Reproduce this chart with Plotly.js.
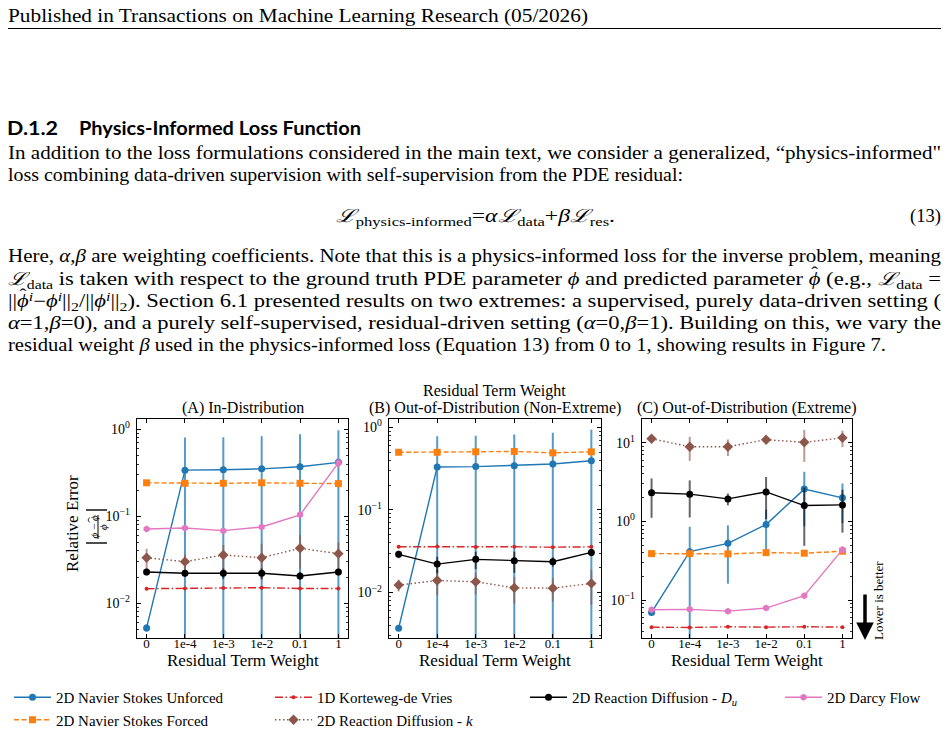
<!DOCTYPE html>
<html>
<head>
<meta charset="utf-8">
<script src="https://cdn.plot.ly/plotly-3.0.1.min.js"></script>
<style>
  html, body { margin: 0; padding: 0; background: #fff; }
  #page { position: relative; width: 949px; height: 734px; overflow: hidden; color: #000; }
  .ln { position: absolute; white-space: nowrap; font-family: "Liberation Serif", serif; font-size: 18px;
        line-height: 22px; transform-origin: 0 50%; }
  .ln sub { font-size: 0.7em; vertical-align: -0.3em; line-height: 0; }
  .ln sup { font-size: 0.7em; vertical-align: 0.45em; line-height: 0; }
  .hat { position: relative; display: inline-block; }
  .hat::after { content: "ˆ"; position: absolute; left: 0.12em; top: -0.38em; font-style: normal; font-size: 0.9em; }
  .hd { font-family: "Lato", "Noto Sans", sans-serif; font-weight: 700; }
  #rule { position: absolute; left: 8px; top: 28px; width: 933px; height: 1px; background: #000; }
  #chart { position: absolute; left: 0; top: 0; width: 949px; height: 734px; }
</style>
</head>
<body>
<div id="page">
  <div class="ln" data-y="16" data-x="8" data-w="580">Published in Transactions on Machine Learning Research (05/2026)</div>
  <div id="rule"></div>
  <div class="ln hd" data-y="128" data-x="7" data-w="51">D.1.2</div>
  <div class="ln hd" data-y="128" data-x="79" data-w="282">Physics-Informed Loss Function</div>
  <div class="ln" data-y="153" data-x="8" data-w="933">In addition to the loss formulations considered in the main text, we consider a generalized, “physics-informed"</div>
  <div class="ln" data-y="175" data-x="8" data-w="675">loss combining data-driven supervision with self-supervision from the PDE residual:</div>
  <div class="ln" data-y="216" data-x="336" data-w="279"><i>ℒ</i><sub>physics-informed</sub>=<i>α</i><i>ℒ</i><sub>data</sub>+<i>β</i><i>ℒ</i><sub>res</sub>.</div>
  <div class="ln" data-y="216" data-x="910" data-w="31">(13)</div>
  <div class="ln" data-y="256" data-x="8" data-w="933">Here, <i>α</i>,<i>β</i> are weighting coefficients. Note that this is a physics-informed loss for the inverse problem, meaning</div>
  <div class="ln" data-y="279" data-x="8" data-w="933"><i>ℒ</i><sub>data</sub> is taken with respect to the ground truth PDE parameter <i>ϕ</i> and predicted parameter <i class="hat">ϕ</i> (e.g., <i>ℒ</i><sub>data</sub> =</div>
  <div class="ln" data-y="301" data-x="8" data-w="933">||<i class="hat">ϕ</i><sup><i>i</i></sup>−<i>ϕ</i><sup><i>i</i></sup>||<sub>2</sub>/||<i>ϕ</i><sup><i>i</i></sup>||<sub>2</sub>). Section 6.1 presented results on two extremes: a supervised, purely data-driven setting (</div>
  <div class="ln" data-y="323" data-x="8" data-w="933"><i>α</i>=1,<i>β</i>=0), and a purely self-supervised, residual-driven setting (<i>α</i>=0,<i>β</i>=1). Building on this, we vary the</div>
  <div class="ln" data-y="345" data-x="8" data-w="878">residual weight <i>β</i> used in the physics-informed loss (Equation 13) from 0 to 1, showing results in Figure 7.</div>
  <div id="chart"></div>
</div>
<script>
// ---- residual term weights (x categories) ----
const weights = ['0', '1e-4', '1e-3', '1e-2', '0.1', '1'];

// ---- (A) In-Distribution: mean relative error and std ----
const nsuA = [0.0052, 0.340, 0.343, 0.352, 0.372, 0.418];
const nsuAErr = [0.0005, 0.47, 0.47, 0.48, 0.51, 0.56];
const nsfA = [0.243, 0.240, 0.240, 0.243, 0.240, 0.238];
const nsfAErr = [0.008, 0.005, 0.005, 0.005, 0.005, 0.005];
const kdvA = [0.0147, 0.0148, 0.0150, 0.0151, 0.0148, 0.0148];
const kdvAErr = [0.0003, 0.0003, 0.0003, 0.0003, 0.0003, 0.0003];
const rdkA = [0.0334, 0.0301, 0.0359, 0.0334, 0.0429, 0.0372];
const rdkAErr = [0.009, 0.006, 0.011, 0.015, 0.018, 0.013];
const rdduA = [0.0229, 0.0221, 0.0221, 0.0221, 0.0206, 0.0229];
const rdduAErr = [0.002, 0.002, 0.003, 0.003, 0.002, 0.002];
const darcyA = [0.0715, 0.0734, 0.0684, 0.0753, 0.104, 0.413];
const darcyAErr = [0.002, 0.002, 0.002, 0.002, 0.003, 0.05];

// ---- (B) Out-of-Distribution (Non-Extreme) ----
const nsuB = [0.0037, 0.330, 0.334, 0.343, 0.359, 0.394];
const nsuBErr = [0.0002, 0.45, 0.456, 0.477, 0.50, 0.536];
const nsfB = [0.498, 0.498, 0.505, 0.510, 0.490, 0.505];
const nsfBErr = [0.01, 0.01, 0.02, 0.02, 0.01, 0.01];
const kdvB = [0.0358, 0.0360, 0.0356, 0.0358, 0.0354, 0.0357];
const kdvBErr = [0.0005, 0.0005, 0.0005, 0.0005, 0.0005, 0.0005];
const rdkB = [0.0123, 0.0140, 0.0135, 0.0114, 0.0113, 0.0129];
const rdkBErr = [0.002, 0.0047, 0.004, 0.004, 0.0035, 0.0058];
const rdduB = [0.0290, 0.0221, 0.0252, 0.0243, 0.0236, 0.0306];
const rdduBErr = [0.003, 0.005, 0.006, 0.007, 0.003, 0.003];

// ---- (C) Out-of-Distribution (Extreme) ----
const nsuC = [0.070, 0.413, 0.527, 0.912, 2.57, 1.99];
const nsuCErr = [0.003, 0.44, 0.365, 0.5, 1.7, 1.04];
const nsfC = [0.390, 0.390, 0.387, 0.402, 0.395, 0.418];
const nsfCErr = [0.01, 0.01, 0.01, 0.01, 0.01, 0.01];
const kdvC = [0.0455, 0.0450, 0.0460, 0.0455, 0.0460, 0.0455];
const kdvCErr = [0.001, 0.001, 0.001, 0.001, 0.001, 0.001];
const rdkC = [11.2, 8.87, 8.87, 10.9, 10.1, 11.5];
const rdkCErr = [0.8, 3.0, 2.1, 0.8, 4.4, 2.7];
const rdduC = [2.31, 2.22, 1.93, 2.37, 1.59, 1.62];
const rdduCErr = [1.2, 1.1, 0.33, 1.3, 1.1, 0.9];
const darcyC = [0.0755, 0.0765, 0.0726, 0.0794, 0.114, 0.438];
const darcyCErr = [0.002, 0.002, 0.002, 0.002, 0.004, 0.05];

// ---- y tick labels ----
const yTicksAB = [0.01, 0.1, 1];
const yTextAB = ['10<sup>−2</sup>', '10<sup>−1</sup>', '10<sup>0</sup>'];
const yTicksC = [0.1, 1, 10];
const yTextC = ['10<sup>−1</sup>', '10<sup>0</sup>', '10<sup>1</sup>'];

// ---- fit each text line to its column width ----
document.querySelectorAll('.ln').forEach(function (el) {
  el.style.left = el.dataset.x + 'px';
  el.style.top = (+el.dataset.y - 11) + 'px';
  const natural = el.getBoundingClientRect().width;
  el.style.transform = 'scaleX(' + (+el.dataset.w / natural) + ')';
});

const W = 949, H = 734;
const px = function (x) { return x / W; };
const py = function (y) { return 1 - y / H; };
const SERIF = '"Liberation Serif", serif';

// legend columns: each column is its own legend box
const styles = {
  nsu:   { name: '2D Navier Stokes Unforced', color: '#1f77b4', err: 'rgba(31,119,180,0.75)', symbol: 'circle', size: 7, dash: 'solid', legend: 'legend' },
  nsf:   { name: '2D Navier Stokes Forced', color: '#ff7f0e', err: 'rgba(255,127,14,0.6)', symbol: 'square', size: 7, dash: '5px,2.5px', legend: 'legend' },
  kdv:   { name: '1D Korteweg-de Vries', color: '#d62728', err: 'rgba(214,39,40,0.6)', symbol: 'circle', size: 4, dash: '8px,2.5px,1.5px,2.5px', legend: 'legend2' },
  rdk:   { name: '2D Reaction Diffusion - <i>k</i>', color: '#8c564b', err: 'rgba(140,86,75,0.6)', symbol: 'diamond', size: 8, dash: '1.5px,2.5px', legend: 'legend2' },
  rddu:  { name: '2D Reaction Diffusion - <i>D<sub>u</sub></i>', color: '#000000', err: 'rgba(0,0,0,0.6)', symbol: 'circle', size: 7, dash: 'solid', legend: 'legend3' },
  darcy: { name: '2D Darcy Flow', color: '#e377c2', err: 'rgba(227,119,194,0.6)', symbol: 'hexagon', size: 7, dash: 'solid', legend: 'legend4' }
};

const panels = [
  { xa: 'x', ya: 'y', x0: 137, x1: 348, yr: [-2.40, 0.12], tv: yTicksAB, tt: yTextAB, title: '(A) In-Distribution',
    series: [['nsu', nsuA, nsuAErr], ['nsf', nsfA, nsfAErr], ['kdv', kdvA, kdvAErr], ['rdk', rdkA, rdkAErr], ['rddu', rdduA, rdduAErr], ['darcy', darcyA, darcyAErr]] },
  { xa: 'x2', ya: 'y2', x0: 389, x1: 601, yr: [-2.55, 0.10], tv: yTicksAB, tt: yTextAB, title: '(B) Out-of-Distribution (Non-Extreme)',
    series: [['nsu', nsuB, nsuBErr], ['nsf', nsfB, nsfBErr], ['kdv', kdvB, kdvBErr], ['rdk', rdkB, rdkBErr], ['rddu', rdduB, rdduBErr]] },
  { xa: 'x3', ya: 'y3', x0: 642, x1: 852, yr: [-1.48, 1.30], tv: yTicksC, tt: yTextC, title: '(C) Out-of-Distribution (Extreme)',
    series: [['nsu', nsuC, nsuCErr], ['nsf', nsfC, nsfCErr], ['kdv', kdvC, kdvCErr], ['rdk', rdkC, rdkCErr], ['rddu', rdduC, rdduCErr], ['darcy', darcyC, darcyCErr]] }
];

// minor tick positions on the log axes (2..9 within each decade)
const minorVals = [];
for (let d = -3; d <= 1; d++) for (let k = 2; k <= 9; k++) minorVals.push(k * Math.pow(10, d));

function legendBox(xMarker) {
  return {
    orientation: 'v', x: px(xMarker - 20), y: py(681), xanchor: 'left', yanchor: 'top',
    traceorder: 'normal', tracegroupgap: 0, itemwidth: 37, borderwidth: 0,
    font: { family: SERIF, size: 15, color: '#000' }, bgcolor: 'rgba(0,0,0,0)'
  };
}

const traces = [];
const layout = {
  width: W, height: H,
  margin: { l: 0, r: 0, t: 0, b: 0, autoexpand: false },
  paper_bgcolor: 'rgba(0,0,0,0)', plot_bgcolor: 'rgba(0,0,0,0)',
  font: { family: SERIF, color: '#000' },
  showlegend: true,
  legend: legendBox(29), legend2: legendBox(290), legend3: legendBox(545), legend4: legendBox(800),
  annotations: [], shapes: []
};

panels.forEach(function (p, i) {
  const sfx = i === 0 ? '' : String(i + 1);
  layout['xaxis' + sfx] = {
    domain: [px(p.x0), px(p.x1)], anchor: p.ya, type: 'category', categoryorder: 'array', categoryarray: weights,
    range: [-0.25, 5.25], showline: true, linecolor: '#000', linewidth: 1.2, mirror: 'allticks',
    ticks: 'inside', ticklen: 4, tickwidth: 1, tickcolor: '#000', showgrid: false, zeroline: false,
    ticklabelstandoff: -7,
    tickfont: { family: SERIF, size: 13, color: '#000' }, fixedrange: true
  };
  layout['yaxis' + sfx] = {
    domain: [py(638), py(419)], anchor: p.xa, type: 'log', range: p.yr,
    tickmode: 'array', tickvals: p.tv, ticktext: p.tt,
    showline: true, linecolor: '#000', linewidth: 1.2, mirror: 'allticks',
    ticks: 'inside', ticklen: 4, tickwidth: 1, tickcolor: '#000', showgrid: false, zeroline: false,
    ticklabelstandoff: 3,
    minor: { tickmode: 'array', tickvals: minorVals, ticks: 'inside', ticklen: 2, tickcolor: '#000', tickwidth: 0.8, showgrid: false },
    tickfont: { family: SERIF, size: 14, color: '#000' }, fixedrange: true
  };
  p.series.forEach(function (s) {
    const st = styles[s[0]];
    traces.push({
      type: 'scatter', mode: 'lines+markers', x: weights, y: s[1],
      xaxis: p.xa, yaxis: p.ya, name: st.name, legendgroup: s[0], legend: st.legend,
      showlegend: i === 0,
      line: { color: st.color, width: 1.4, dash: st.dash },
      marker: { color: st.color, symbol: st.symbol, size: st.size },
      error_y: { type: 'data', array: s[2], visible: true, color: st.err, thickness: 2, width: 0 }
    });
  });
  const cx = px((p.x0 + p.x1) / 2);
  layout.annotations.push({ xref: 'paper', yref: 'paper', x: cx, y: py(408), text: p.title, showarrow: false,
    xanchor: 'center', yanchor: 'middle', font: { family: SERIF, size: 16 } });
  layout.annotations.push({ xref: 'paper', yref: 'paper', x: cx, y: py(660), text: 'Residual Term Weight', showarrow: false,
    xanchor: 'center', yanchor: 'middle', font: { family: SERIF, size: 17 } });
});

// figure-level labels
layout.annotations.push(
  { xref: 'paper', yref: 'paper', x: px(495), y: py(391), text: 'Residual Term Weight', showarrow: false,
    xanchor: 'center', yanchor: 'middle', font: { family: SERIF, size: 16 } },
  { xref: 'paper', yref: 'paper', x: px(72), y: py(524), text: 'Relative Error', textangle: -90, showarrow: false,
    xanchor: 'center', yanchor: 'middle', font: { family: SERIF, size: 17 } },
  { xref: 'paper', yref: 'paper', x: px(93.5), y: py(527), text: '<i>ϕ</i> − <i>ϕ</i>', textangle: -90, showarrow: false,
    xanchor: 'center', yanchor: 'middle', font: { family: SERIF, size: 11 } },
  { xref: 'paper', yref: 'paper', x: px(103), y: py(527), text: '<i>ϕ</i>', textangle: -90, showarrow: false,
    xanchor: 'center', yanchor: 'middle', font: { family: SERIF, size: 11 } },
  { xref: 'paper', yref: 'paper', x: px(878), y: py(601), text: 'Lower is better', textangle: -90, showarrow: false,
    xanchor: 'center', yanchor: 'middle', font: { family: SERIF, size: 13 } },
  { xref: 'paper', yref: 'paper', x: px(865), y: py(640), text: '', showarrow: true, ax: 0, ay: -47,
    arrowhead: 2, arrowsize: 1, arrowwidth: 3.5, arrowcolor: '#000', standoff: 0 }
);

// fraction bar, hat over the predicted phi, and absolute-value bars of the error formula
layout.shapes.push(
  { type: 'line', xref: 'paper', yref: 'paper', x0: px(98), x1: px(98), y0: py(515), y1: py(539), line: { color: '#000', width: 1 } },
  { type: 'path', xref: 'paper', yref: 'paper',
    path: 'M ' + px(89.5) + ' ' + py(517.5) + ' L ' + px(88) + ' ' + py(520) + ' L ' + px(89.5) + ' ' + py(522.5),
    line: { color: '#000', width: 0.8 } },
  { type: 'line', xref: 'paper', yref: 'paper', x0: px(86), x1: px(107), y0: py(510), y1: py(510), line: { color: '#000', width: 1.4 } },
  { type: 'line', xref: 'paper', yref: 'paper', x0: px(86), x1: px(107), y0: py(543), y1: py(543), line: { color: '#000', width: 1.4 } }
);

Plotly.newPlot('chart', traces, layout, { staticPlot: true, displayModeBar: false });
</script>
</body>
</html>
